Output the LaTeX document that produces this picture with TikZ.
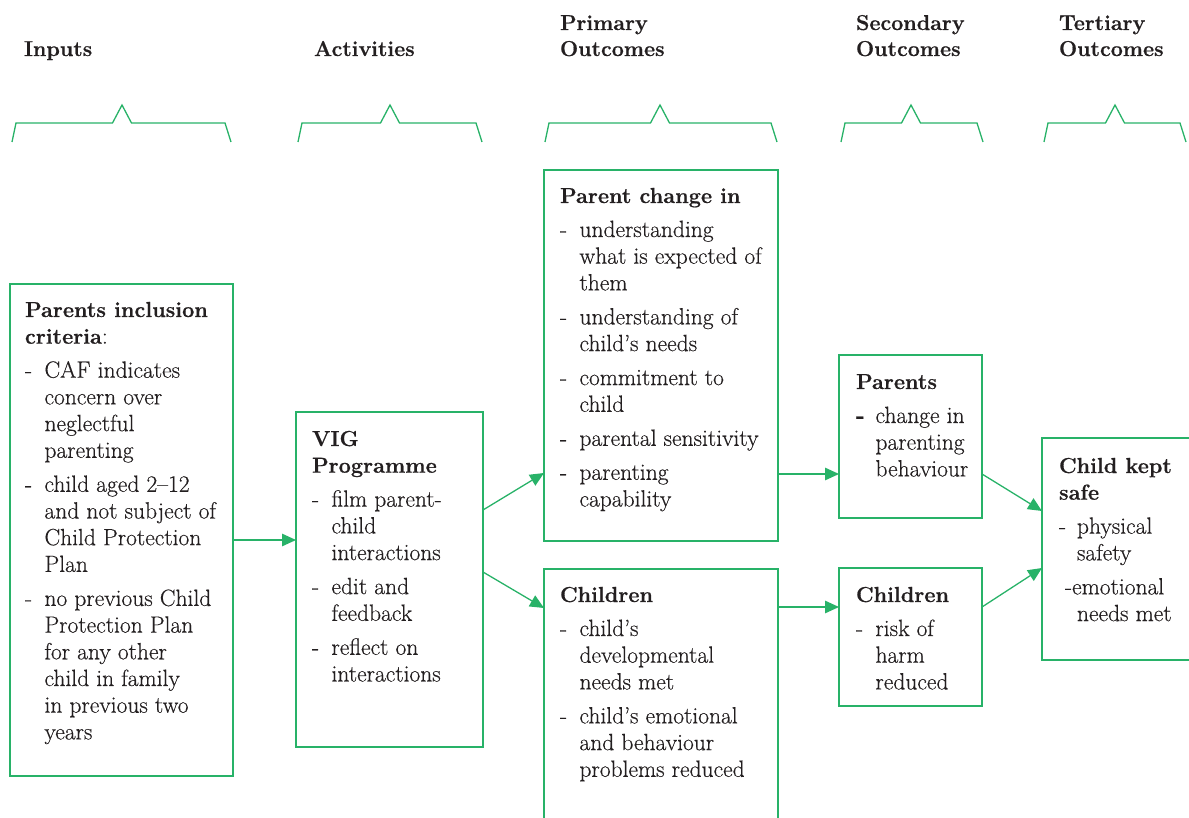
\documentclass[tikz,border=0pt]{standalone}
\usepackage{fontspec}
\newfontfamily\bodyf{Latin Modern Roman}[FakeBold=0.4]
\newfontfamily\headf{Latin Modern Roman}[BoldFeatures={FakeBold=0.6}]
\usetikzlibrary{arrows.meta}
\definecolor{vgreen}{RGB}{40,178,104}
\definecolor{ink}{RGB}{35,31,32}
\newcommand{\dsh}{\makebox[19.5pt][l]{-}}
\newcommand{\ind}{\hspace*{19.5pt}}
\newcommand{\ttl}[1]{{\fontsize{21.7}{26.7}\headf\bfseries #1}}
\begin{document}
\begin{tikzpicture}[x=1pt,y=-1pt,
  box/.style={draw=vgreen, line width=1.3pt, inner sep=0pt, outer sep=0pt, anchor=north west},
  txt/.style={anchor=base west, inner sep=0pt, outer sep=0pt, text=ink, font=\bodyf\fontsize{23.5}{26.7}\selectfont},
  hdr/.style={anchor=base west, inner sep=0pt, outer sep=0pt, text=ink, font=\headf\fontsize{21.5}{26}\selectfont\bfseries},
  bracket/.style={draw=vgreen, line width=1.3pt, line join=miter},
  arr/.style={draw=vgreen, line width=1.3pt, -{Triangle[length=14pt,width=12.5pt]}}]
\useasboundingbox (0,0) rectangle (1189,818);
\clip (0,0) rectangle (1189,818);

% headers
\node[hdr] (hIn) at (24,56) {Inputs};
\node[hdr] (hAct) at (314,56) {Activities};
\node[hdr] (hPri) at (560,30) {\begin{tabular}[t]{@{}l@{}}Primary\\Outcomes\end{tabular}};
\node[hdr] (hSec) at (856,30) {\begin{tabular}[t]{@{}l@{}}Secondary\\Outcomes\end{tabular}};
\node[hdr] (hTer) at (1059,30) {\begin{tabular}[t]{@{}l@{}}Tertiary\\Outcomes\end{tabular}};

% brackets
\foreach \L/\P/\R in {12/122/231, 298/390/482, 545/660/777, 841/911/983, 1044/1115/1186}
  \draw[bracket] (\L,142) -- (\L+4,123) -- (\P-9.5,123) -- (\P,105) -- (\P+9.5,123) -- (\R-6,123) -- (\R,142);

% boxes
\node[box, minimum width=223pt, minimum height=492pt] (inp) at (10,284) {};
\node[box, minimum width=187pt, minimum height=335pt] (vig) at (296,412) {};
\node[box, minimum width=234pt, minimum height=371pt] (pc) at (544,170) {};
\node[box, minimum width=234pt, minimum height=280pt] (ch1) at (544,569) {};
\node[box, minimum width=143pt, minimum height=163pt] (par) at (839,355) {};
\node[box, minimum width=143pt, minimum height=138pt] (ch2) at (839,568) {};
\node[box, minimum width=170pt, minimum height=222pt] (safe) at (1042,438) {};

% texts
\node[txt] (tIn) at (25,317) {\begin{tabular}[t]{@{}l@{}}
\ttl{Parents inclusion}\\
\ttl{criteria}:\\[7.3pt]
\dsh CAF indicates\\
\ind concern over\\
\ind neglectful\\
\ind parenting\\[7.3pt]
\dsh child aged 2–12\\
\ind and not subject of\\
\ind Child Protection\\
\ind Plan\\[7.3pt]
\dsh no previous Child\\
\ind Protection Plan\\
\ind for any other\\
\ind child in family\\
\ind in previous two\\
\ind years
\end{tabular}};

\node[txt] (tVig) at (312,446) {\begin{tabular}[t]{@{}l@{}}
\ttl{VIG}\\
\ttl{Programme}\\[7.3pt]
\dsh film parent-\\
\ind child\\
\ind interactions\\[7.3pt]
\dsh edit and\\
\ind feedback\\[7.3pt]
\dsh reflect on\\
\ind interactions
\end{tabular}};

\node[txt] (tPc) at (560,203) {\begin{tabular}[t]{@{}l@{}}
\ttl{Parent change in}\\[7.3pt]
\dsh understanding\\
\ind what is expected of\\
\ind them\\[7.3pt]
\dsh understanding of\\
\ind child’s needs\\[7.3pt]
\dsh commitment to\\
\ind child\\[7.3pt]
\dsh parental sensitivity\\[7.3pt]
\dsh parenting\\
\ind capability
\end{tabular}};

\node[txt] (tCh1) at (560,602) {\begin{tabular}[t]{@{}l@{}}
\ttl{Children}\\[7.3pt]
\dsh child’s\\
\ind developmental\\
\ind needs met\\[7.3pt]
\dsh child’s emotional\\
\ind and behaviour\\
\ind problems reduced
\end{tabular}};

\node[txt] (tPar) at (856,389) {\begin{tabular}[t]{@{}l@{}}
\ttl{Parents}\\[7.3pt]
\makebox[19.5pt][l]{\headf\bfseries -}change in\\
\ind parenting\\
\ind behaviour
\end{tabular}};

\node[txt] (tCh2) at (856,602) {\begin{tabular}[t]{@{}l@{}}
\ttl{Children}\\[7.3pt]
\dsh risk of\\
\ind harm\\
\ind reduced
\end{tabular}};

\node[txt] (tSafe) at (1059,473) {\begin{tabular}[t]{@{}l@{}}
\ttl{Child kept}\\
\ttl{safe}\\[7.3pt]
\makebox[18pt][l]{-}physical\\
\hspace*{18pt}safety\\[7.3pt]
\hspace*{6pt}-emotional\\
\hspace*{18pt}needs met
\end{tabular}};

% connectors
\draw[arr] (inp.east |- 0,540) -- (vig.west |- 0,540);
\draw[arr] (vig.east |- 0,510) -- (pc.west |- 0,473);
\draw[arr] (vig.east |- 0,572) -- (ch1.west |- 0,608);
\draw[arr] (pc.east |- 0,474) -- (par.west |- 0,474);
\draw[arr] (ch1.east |- 0,607) -- (ch2.west |- 0,607);
\draw[arr] (par.east |- 0,474) -- (safe.west |- 0,511);
\draw[arr] (ch2.east |- 0,607) -- (safe.west |- 0,568);
\end{tikzpicture}
\end{document}
